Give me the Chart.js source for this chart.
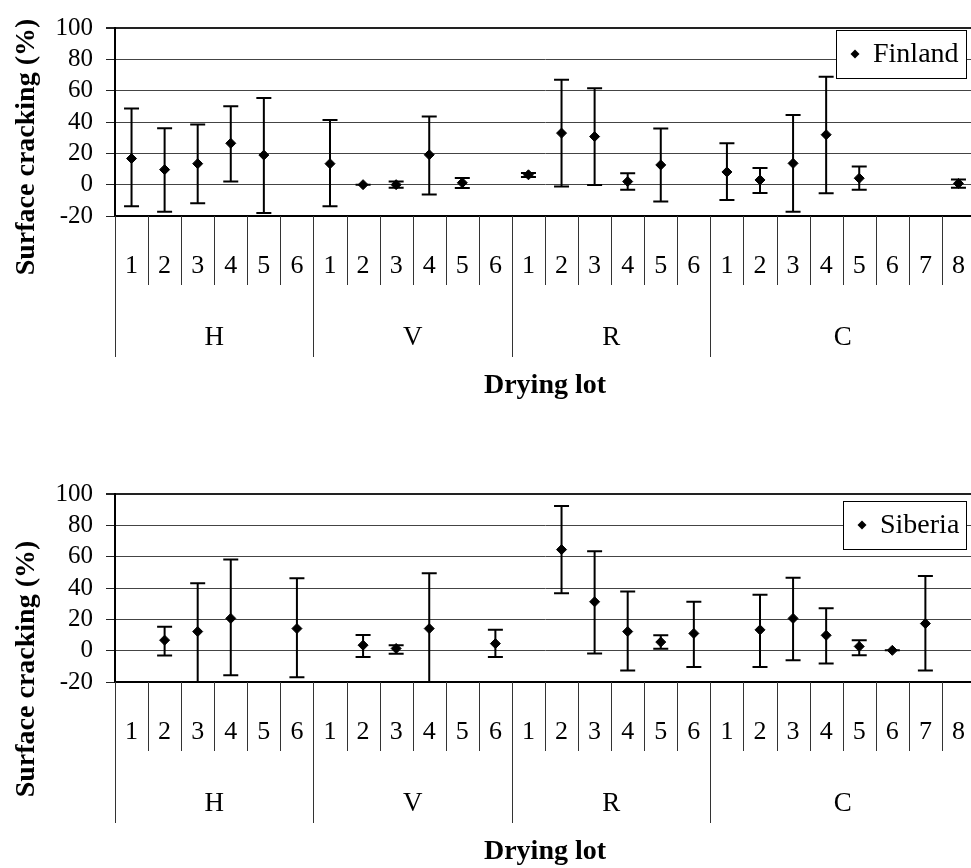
<!DOCTYPE html>
<html>
<head>
<meta charset="utf-8">
<script src="https://cdn.jsdelivr.net/npm/chart.js@4.4.0/dist/chart.umd.min.js"></script>
<style>
  html, body { margin: 0; padding: 0; background: #fff; overflow: hidden; width: 971px; height: 868px; }
  .box { position: absolute; left: 0; width: 981px; height: 402px; }
</style>
</head>
<body>
<div class="box" style="top:0"><canvas id="chartFinland" width="981" height="402"></canvas></div>
<div class="box" style="top:466px"><canvas id="chartSiberia" width="981" height="402"></canvas></div>
<script>
// Grupos de secagem e lotes
const groups = ['H', 'V', 'R', 'C'];
const lotsPerGroup = [6, 6, 6, 8];
const lotLabels = ['1','2','3','4','5','6', '1','2','3','4','5','6', '1','2','3','4','5','6', '1','2','3','4','5','6','7','8'];
const yTicks = [-20, 0, 20, 40, 60, 80, 100];

// Finland: média e limites da barra de erro
const finlandMean = [16.7, 9.6, 13.4, 26.4, 18.9, null,  13.4, 0, 0, 19.1, 1.2, null,  6.3, 32.9, 30.7, 2, 12.6, null,  8.1, 3, 13.6, 31.9, 4.1, null, null, 0.8];
const finlandHigh = [48.6, 36, 38.4, 50, 55.3, null,  41.3, 0, 2, 43.5, 4.3, null,  7.5, 66.9, 61.6, 7.3, 35.8, null,  26.4, 10.6, 44.5, 68.9, 11.6, null, null, 3.3];
const finlandLow  = [-13.8, -17.3, -11.8, 2, -18.1, null,  -13.8, 0, -2, -6.3, -2.2, null,  4.9, -1.2, -0.2, -3.3, -10.8, null,  -9.8, -5.3, -17.3, -5.5, -3.3, null, null, -2];

// Siberia
const siberiaMean = [null, 6.7, 12.2, 20.6, null, 14.1,  null, 3.5, 1.4, 14.1, null, 4.5,  null, 64.5, 31.2, 12.2, 5.5, 11,  null, 13.3, 20.6, 9.8, 2.7, 0.2, 17.3, null];
const siberiaHigh = [null, 15.3, 43.1, 58.2, null, 46.3,  null, 10, 3.5, 49.4, null, 13.3,  null, 92.4, 63.5, 37.8, 9.8, 31.2,  null, 35.7, 46.5, 27.1, 6.7, 0.2, 47.6, null];
const siberiaLow  = [null, -3.1, -20, -15.7, null, -16.9,  null, -4.1, -2, -20, null, -4.1,  null, 36.7, -1.8, -12.7, 1.2, -10.4,  null, -10.4, -6.1, -8.2, -2.9, 0.2, -12.7, null];

const serif = '"Liberation Serif", "Times New Roman", serif';

// Plugin: barras de erro, eixo de lotes em dois níveis, títulos e legenda
const lotAxisPlugin = {
  id: 'lotAxis',
  beforeDatasetsDraw(chart) {
    const { ctx, chartArea, scales: { x, y } } = chart;
    const ds = chart.data.datasets[0];
    ctx.save();
    ctx.beginPath();
    ctx.rect(chartArea.left, chartArea.top - 2, chartArea.width, chartArea.height + 4);
    ctx.clip();
    ctx.strokeStyle = '#000';
    ctx.lineWidth = 2;
    ds.data.forEach((v, i) => {
      if (v === null) return;
      const px = x.getPixelForValue(i);
      const yh = y.getPixelForValue(ds.errHigh[i]);
      const yl = y.getPixelForValue(ds.errLow[i]);
      ctx.beginPath();
      ctx.moveTo(px, yh); ctx.lineTo(px, yl);
      ctx.moveTo(px - 7.5, yh); ctx.lineTo(px + 7.5, yh);
      ctx.moveTo(px - 7.5, yl); ctx.lineTo(px + 7.5, yl);
      ctx.stroke();
    });
    ctx.restore();
  },
  afterDraw(chart, args, opts) {
    const { ctx, chartArea, scales: { x } } = chart;
    const n = lotLabels.length;
    const w = (chartArea.right - chartArea.left) / n;
    ctx.save();

    // separadores
    const bounds = [0];
    lotsPerGroup.forEach(c => bounds.push(bounds[bounds.length - 1] + c));
    ctx.strokeStyle = '#333';
    ctx.lineWidth = 1;
    for (let i = 0; i <= n; i++) {
      const xb = Math.round(chartArea.left + i * w) + 0.5;
      const long = bounds.includes(i);
      ctx.beginPath();
      ctx.moveTo(xb, chartArea.bottom);
      ctx.lineTo(xb, long ? 357 : 285);
      ctx.stroke();
    }

    // rótulos dos lotes
    ctx.fillStyle = '#000';
    ctx.textAlign = 'center';
    ctx.textBaseline = 'middle';
    ctx.font = '26px ' + serif;
    lotLabels.forEach((lab, i) => ctx.fillText(lab, x.getPixelForValue(i), 266));

    // rótulos dos grupos
    ctx.font = '27px ' + serif;
    groups.forEach((g, k) => {
      const cx = chartArea.left + (bounds[k] + bounds[k + 1]) / 2 * w;
      ctx.fillText(g, cx, 338);
    });

    // título do eixo x
    ctx.font = 'bold 28px ' + serif;
    ctx.fillText('Drying lot', (chartArea.left + chartArea.right) / 2, 386);

    // título do eixo y
    ctx.save();
    ctx.translate(27, opts.titleY);
    ctx.rotate(-Math.PI / 2);
    ctx.fillText('Surface cracking (%)', 0, 0);
    ctx.restore();

    // legenda
    ctx.font = '28px ' + serif;
    const name = chart.data.datasets[0].label;
    const tw = ctx.measureText(name).width;
    const bw = Math.round(tw + 44), bh = 48;
    const bx = Math.round(chartArea.right - 9 - bw);
    const by = Math.round(chartArea.top + opts.legendTop);
    ctx.fillStyle = '#fff';
    ctx.fillRect(bx, by, bw, bh);
    ctx.strokeStyle = '#000';
    ctx.lineWidth = 1;
    ctx.strokeRect(bx + 0.5, by + 0.5, bw, bh);
    ctx.fillStyle = '#000';
    const mx = bx + 19, my = by + bh / 2;
    ctx.beginPath();
    ctx.moveTo(mx - 4.5, my); ctx.lineTo(mx, my - 4.5); ctx.lineTo(mx + 4.5, my); ctx.lineTo(mx, my + 4.5);
    ctx.closePath();
    ctx.fill();
    ctx.textAlign = 'left';
    ctx.fillText(name, bx + 37, my + 1);
    ctx.restore();
  }
};

function makeChart(id, label, mean, high, low, titleY, legendTop) {
  const ctx = document.getElementById(id).getContext('2d');
  return new Chart(ctx, {
    type: 'line',
    data: {
      labels: lotLabels,
      datasets: [{
        label: label,
        data: mean,
        errHigh: high,
        errLow: low,
        showLine: false,
        pointStyle: 'rectRot',
        pointRadius: 5,
        pointHoverRadius: 5,
        pointBorderWidth: 1,
        backgroundColor: '#000',
        borderColor: '#000'
      }]
    },
    options: {
      responsive: false,
      animation: false,
      devicePixelRatio: 1,
      layout: { padding: { top: 19, right: 5, left: 0, bottom: 0 } },
      plugins: {
        legend: { display: false },
        tooltip: { enabled: false },
        lotAxis: { titleY: titleY, legendTop: legendTop }
      },
      scales: {
        x: {
          type: 'category',
          offset: true,
          ticks: { display: false },
          grid: { display: true, drawOnChartArea: false, drawTicks: false },
          border: { display: true, color: '#000', width: 2 },
          afterFit(scale) { scale.height = 186; }
        },
        y: {
          min: -20,
          max: 100,
          afterBuildTicks(scale) { scale.ticks = yTicks.map(v => ({ value: v })); },
          ticks: { color: '#000', padding: 13, autoSkip: false, font: { family: serif, size: 25 } },
          grid: {
            color: ctx => ctx.tick && ctx.tick.value === 100 ? '#222' : '#444',
            lineWidth: ctx => ctx.tick && ctx.tick.value === 100 ? 2 : 1,
            tickLength: 9,
            tickColor: '#222'
          },
          border: { display: true, color: '#000', width: 2 },
          afterFit(scale) { scale.width = 115; }
        }
      }
    },
    plugins: [lotAxisPlugin]
  });
}

makeChart('chartFinland', 'Finland', finlandMean, finlandHigh, finlandLow, 147, 2);
makeChart('chartSiberia', 'Siberia', siberiaMean, siberiaHigh, siberiaLow, 203, 7);
</script>
</body>
</html>
